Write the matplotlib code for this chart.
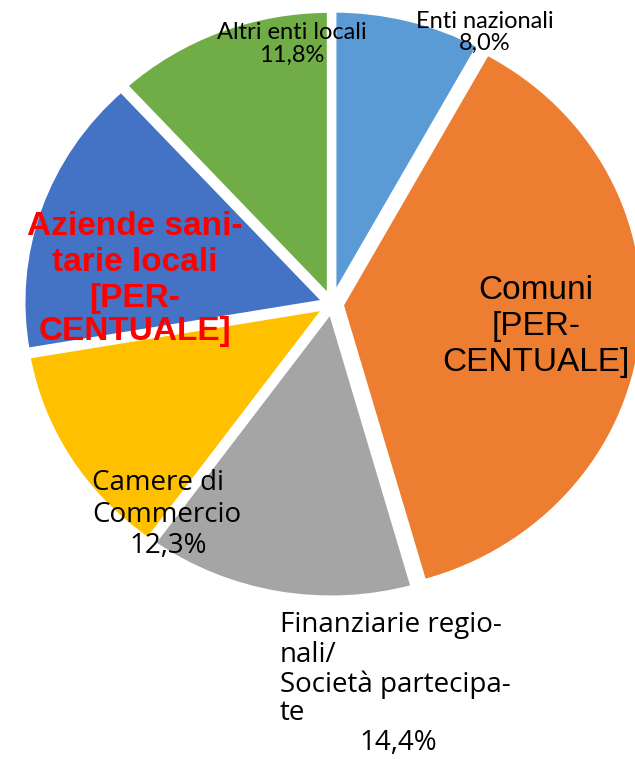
import matplotlib.pyplot as plt

# Valori (percentuali; Comuni e ASL stimati)
categorie = ['Enti nazionali', 'Comuni', 'Finanziarie regionali/Società partecipate',
             'Camere di Commercio', 'Aziende sanitarie locali', 'Altri enti locali']
valori = [8.0, 37.6, 14.4, 12.3, 15.9, 11.8]
colori = ['#5B9BD5', '#ED7D31', '#A5A5A5', '#FFC000', '#4472C4', '#70AD47']
esplosione = [0.022, 0.03, 0.022, 0.022, 0.022, 0.022]

W, H = 635, 759
fig = plt.figure(figsize=(W / 100, H / 100), dpi=100)
ax = fig.add_axes([0, 0, 1, 1])

ax.pie(valori, colors=colori, startangle=90, counterclock=False, explode=esplosione,
       wedgeprops=dict(edgecolor='white', linewidth=4))

# il grafico originale e' leggermente allungato in orizzontale
cx, cy, rx, ry = 332, 304, 303, 288
ax.set_aspect('auto')
ax.set_xlim(-cx / rx, (W - cx) / rx)
ax.set_ylim(-(H - cy) / ry, cy / ry)
ax.axis('off')


def riga(x, y, s, ha='center', **kw):
    # x, y in pixel (y = linea di base, dall'alto)
    ax.text(x / W, 1 - y / H, s, transform=ax.transAxes, ha=ha, va='baseline', **kw)


piccolo = dict(fontsize=17, family='Lato')
riga(485, 28, 'Enti nazionali', **piccolo)
riga(485, 50, '8,0%', **piccolo)
riga(292, 39, 'Altri enti locali', **piccolo)
riga(292, 62, '11,8%', **piccolo)

grande = dict(fontsize=24, family='Liberation Sans')
for y, s in zip([299, 335, 371], ['Comuni', '[PER-', 'CENTUALE]']):
    riga(536, y, s, **grande)
for y, s in zip([235, 271, 307, 340], ['Aziende sani-', 'tarie locali', '[PER-', 'CENTUALE]']):
    riga(135, y, s, fontweight='bold', color='red', **grande)

medio = dict(fontsize=20, family='Open Sans')
riga(92, 490, 'Camere di', ha='left', **medio)
riga(92, 522, 'Commercio', ha='left', **medio)
riga(168, 553, '12,3%', **medio)

for y, s in zip([632, 662, 692, 720], ['Finanziarie regio-', 'nali/', 'Società partecipa-', 'te']):
    riga(280, y, s, ha='left', **medio)
riga(398, 750, '14,4%', **medio)

fig.savefig('out.png', dpi=100)
